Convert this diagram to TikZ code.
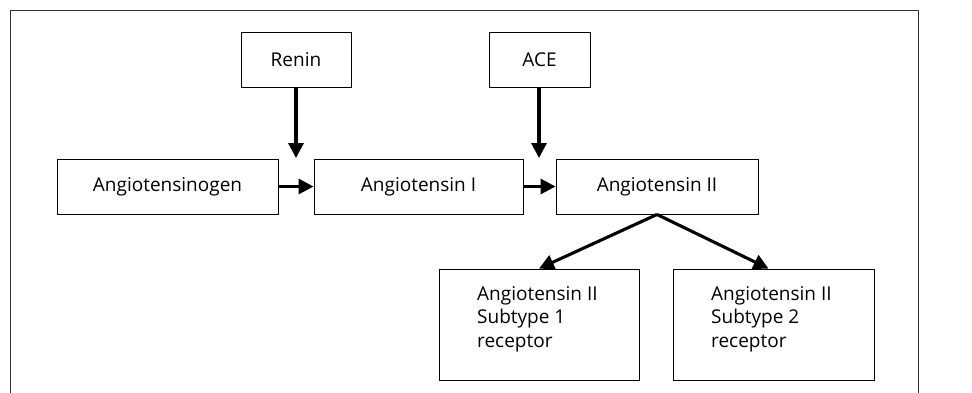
\documentclass[tikz,border=0pt]{standalone}
\usepackage{fontspec}
\setmainfont{Open Sans}
\usetikzlibrary{arrows.meta,calc}
\begin{document}
\begin{tikzpicture}[x=1pt,y=-1pt,
  txt/.style={font=\fontsize{19}{23.5}\selectfont},
  box/.style={draw=black,line width=0.9pt,inner sep=0pt,txt},
  arr/.style={line width=3.1pt,-{Triangle[length=15pt,width=15pt]}}]
\useasboundingbox (0,0) rectangle (972,392);
\draw[line width=1pt,draw=black!80] (10,395) -- (10,10) -- (918,10) -- (918,395);
\node[box,minimum width=110pt,minimum height=55pt] (renin) at (296,59.5) {Renin};
\node[box,minimum width=101pt,minimum height=55pt] (ace) at (539.5,59.5) {ACE};
\node[box,minimum width=221pt,minimum height=55pt] (agen) at (167.5,186.5) {Angiotensinogen};
\node[box,minimum width=209pt,minimum height=55pt] (ang1) at (418.5,186.5) {Angiotensin I};
\node[box,minimum width=202pt,minimum height=55pt] (ang2) at (657,186.5) {Angiotensin II};
\node[box,minimum width=200pt,minimum height=111pt] (r1) at (539,324.5) {};
\node[box,minimum width=201pt,minimum height=111pt] (r2) at (773.5,324.5) {};
\node[txt,anchor=north west,inner sep=0pt,align=left] (t1) at (477,286) {Angiotensin II\\Subtype 1\\receptor};
\node[txt,anchor=north west,inner sep=0pt,align=left] (t2) at (711,286) {Angiotensin II\\Subtype 2\\receptor};
\coordinate (rt) at (296,158);
\coordinate (at) at (539,158);
\draw[arr] (renin.south) -- (rt);
\draw[arr] (ace.south -| at) -- (at);
\draw[arr] (agen.east) -- (ang1.west);
\draw[arr] (ang1.east) -- (ang2.west);
\draw[arr] (ang2.south) -- (r1.north);
\draw[arr] (ang2.south) -- ($(r2.north)+(-5,0)$);
\end{tikzpicture}
\end{document}
